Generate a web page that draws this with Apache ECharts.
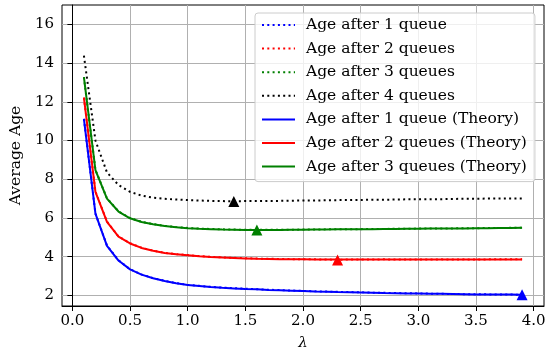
<!DOCTYPE html>
<html>
<head>
<meta charset="utf-8">
<script src="https://cdn.jsdelivr.net/npm/echarts@6/dist/echarts.min.js"></script>
<style>html,body{margin:0;padding:0;background:#fff}#c{width:550px;height:352px}</style>
</head>
<body>
<div id="c"></div>
<script>
const lambdas = [0.1,0.2,0.3,0.4,0.5,0.6,0.7,0.8,0.9,1.0,1.1,1.2,1.3,1.4,1.5,1.6,1.7,1.8,1.9,2.0,2.1,2.2,2.3,2.4,2.5,2.6,2.7,2.8,2.9,3.0,3.1,3.2,3.3,3.4,3.5,3.6,3.7,3.8,3.9];

const sim1 = [11.12,6.22,4.57,3.81,3.35,3.08,2.89,2.75,2.63,2.54,2.49,2.44,2.40,2.37,2.34,2.32,2.29,2.27,2.25,2.23,2.21,2.20,2.18,2.17,2.16,2.14,2.13,2.12,2.11,2.10,2.09,2.08,2.07,2.06,2.06,2.05,2.05,2.04,2.03];
const sim2 = [12.21,7.36,5.81,5.04,4.69,4.46,4.31,4.20,4.13,4.08,4.03,3.99,3.96,3.94,3.92,3.90,3.89,3.88,3.87,3.86,3.86,3.85,3.84,3.85,3.85,3.85,3.86,3.85,3.85,3.86,3.85,3.86,3.85,3.86,3.85,3.86,3.86,3.86,3.86];
const sim3 = [13.28,8.48,7.01,6.34,5.99,5.80,5.68,5.59,5.53,5.48,5.45,5.43,5.41,5.40,5.39,5.38,5.39,5.39,5.39,5.40,5.40,5.41,5.41,5.42,5.42,5.43,5.43,5.44,5.44,5.45,5.45,5.46,5.46,5.47,5.47,5.48,5.48,5.49,5.49];
const sim4 = [14.38,10.0,8.35,7.7,7.35,7.15,7.05,6.99,6.95,6.92,6.90,6.88,6.87,6.86,6.87,6.87,6.88,6.88,6.89,6.90,6.90,6.91,6.92,6.92,6.93,6.94,6.94,6.95,6.96,6.96,6.97,6.97,6.98,6.99,6.99,7.00,7.00,7.01,7.01];

const th1 = [11.12,6.22,4.56,3.80,3.34,3.07,2.88,2.74,2.62,2.53,2.48,2.43,2.39,2.36,2.33,2.31,2.28,2.26,2.24,2.22,2.20,2.19,2.17,2.16,2.15,2.14,2.12,2.11,2.10,2.09,2.08,2.08,2.07,2.06,2.05,2.05,2.04,2.04,2.03];
const th2 = [12.21,7.35,5.80,5.03,4.68,4.45,4.30,4.19,4.12,4.07,4.02,3.98,3.95,3.93,3.91,3.89,3.88,3.87,3.86,3.86,3.85,3.85,3.85,3.85,3.85,3.85,3.85,3.85,3.85,3.85,3.85,3.85,3.85,3.85,3.85,3.85,3.85,3.85,3.85];
const th3 = [13.28,8.47,7.00,6.33,5.98,5.79,5.67,5.58,5.52,5.47,5.44,5.42,5.40,5.39,5.38,5.38,5.38,5.38,5.39,5.39,5.40,5.40,5.41,5.41,5.42,5.42,5.43,5.43,5.44,5.44,5.45,5.45,5.46,5.46,5.47,5.47,5.48,5.48,5.49];

const minMarks = [
  {x: 1.4, y: 6.85, color: '#000000'},
  {x: 1.6, y: 5.38, color: '#008000'},
  {x: 2.3, y: 3.83, color: '#ff0000'},
  {x: 3.9, y: 2.03, color: '#0000ff'}
];

const xTicks = [0.0,0.5,1.0,1.5,2.0,2.5,3.0,3.5,4.0];
const yTicks = [2,4,6,8,10,12,14,16];

const names = ['Age after 1 queue','Age after 2 queues','Age after 3 queues','Age after 4 queues',
  'Age after 1 queue (Theory)','Age after 2 queues (Theory)','Age after 3 queues (Theory)'];

const FONT = 'DejaVu Serif';
const pair = arr => lambdas.map((l,i)=>[l, arr[i]]);
const dotted = [2, 3.3];

function lineSeries(name, data, color, type, z) {
  return {
    name, type: 'line', data: pair(data), symbol: 'none', z,
    lineStyle: {color, width: 2, type, cap: 'butt'},
    itemStyle: {color},
    animation: false
  };
}

const series = [
  lineSeries(names[0], sim1, '#0000ff', dotted, 2),
  lineSeries(names[1], sim2, '#ff0000', dotted, 2),
  lineSeries(names[2], sim3, '#008000', dotted, 2),
  lineSeries(names[3], sim4, '#000000', dotted, 2),
  lineSeries(names[4], th1, '#0000ff', 'solid', 3),
  lineSeries(names[5], th2, '#ff0000', 'solid', 3),
  lineSeries(names[6], th3, '#008000', 'solid', 3),
  {
    type: 'scatter', name: 'min', z: 5,
    symbol: 'triangle', symbolSize: 11,
    itemStyle: {opacity: 1},
    data: minMarks.map(m => ({value: [m.x, m.y], itemStyle: {color: m.color, opacity: 1}})),
    animation: false
  }
];

const chart = echarts.init(document.getElementById('c'), null, {renderer: 'canvas'});
chart.setOption({
  backgroundColor: '#fff',
  animation: false,
  grid: {left: 62, right: 6, top: 5, bottom: 46, containLabel: false, outerBoundsMode: 'none', show: true, borderColor: '#000', borderWidth: 1, backgroundColor: 'transparent'},
  legend: {
    data: names.map(n => ({name: n})),
    orient: 'vertical', left: 255, top: 13,
    itemWidth: 33, itemHeight: 14, itemGap: 7.6,
    padding: [4, 8, 7, 6],
    backgroundColor: 'rgba(255,255,255,0.8)',
    borderColor: '#cccccc', borderWidth: 1, borderRadius: 3,
    itemStyle: {opacity: 0},
    textStyle: {fontFamily: FONT, fontSize: 15.5, lineHeight: 16, color: '#000', padding: [0,0,0,6]},
    inactiveColor: '#000'
  },
  xAxis: {
    type: 'value', min: -0.09, max: 4.09,
    name: 'λ', nameLocation: 'middle', nameGap: 30,
    nameTextStyle: {fontFamily: FONT, fontSize: 15, fontStyle: 'italic', color: '#000'},
    axisLine: {show: true, lineStyle: {color: '#000', width: 1}},
    axisTick: {show: true, length: 5, lineStyle: {color: '#000'}, customValues: xTicks},
    axisLabel: {fontFamily: FONT, fontSize: 15, color: '#000', margin: 8, customValues: xTicks, formatter: v => v.toFixed(1)},
    splitLine: {show: true, lineStyle: {color: '#b0b0b0', width: 1}}
  },
  yAxis: {
    type: 'value', min: 1.45, max: 17.0,
    name: 'Average Age', nameLocation: 'middle', nameGap: 29,
    nameTextStyle: {fontFamily: FONT, fontSize: 15.5, color: '#000'},
    axisLine: {show: true, lineStyle: {color: '#000', width: 1}},
    axisTick: {show: true, length: 5, lineStyle: {color: '#000'}, customValues: yTicks},
    axisLabel: {fontFamily: FONT, fontSize: 15, color: '#000', margin: 8, customValues: yTicks},
    splitLine: {show: true, lineStyle: {color: '#b0b0b0', width: 1}}
  },
  series
});
</script>
</body>
</html>
